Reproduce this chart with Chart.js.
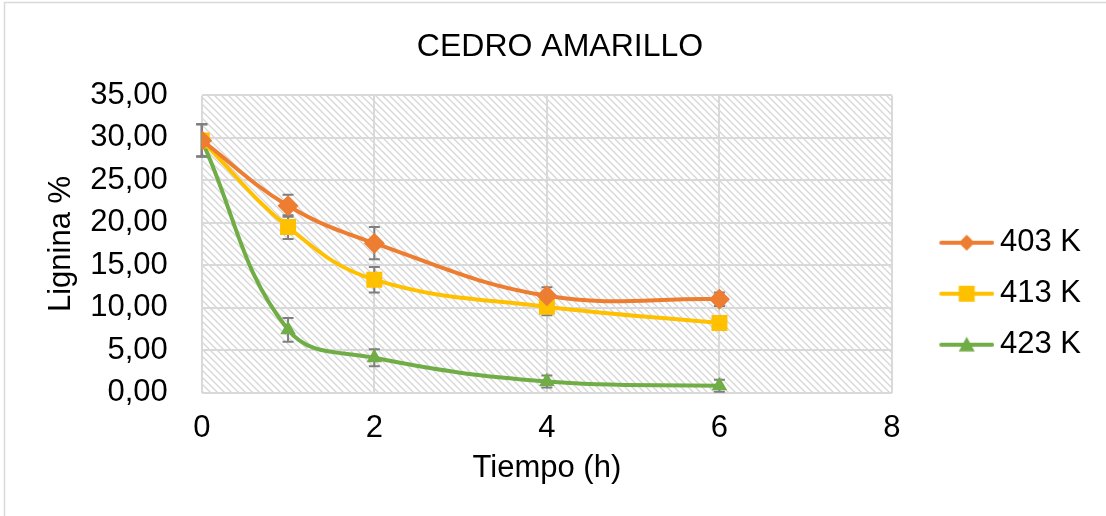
<!DOCTYPE html>
<html>
<head>
  <title>Cedro amarillo - lignina</title>
  <style>
    body { margin: 0; background: #fff; }
    #wrap { width: 1106px; height: 516px; position: relative; }
  </style>
</head>
<body>
  <div id="wrap"><canvas id="chart" width="1106" height="516"></canvas></div>

  <script src="https://cdn.jsdelivr.net/npm/chart.js@4.4.0/dist/chart.umd.js"></script>
  <script>
    // data
    const tiempo = [0, 1, 2, 4, 6];
    const seriesNames = ['403 K', '413 K', '423 K'];
    const lig403 = [29.7, 22.0, 17.6, 11.4, 11.0];
    const lig413 = [29.7, 19.5, 13.3, 10.1, 8.2];
    const lig423 = [29.7, 7.4, 4.1, 1.3, 0.8];
    const err403 = [1.9, 1.3, 1.9, 1.0, 0.8];
    const err413 = [1.9, 1.4, 1.5, 1.0, 0.3];
    const err423 = [1.9, 1.4, 1.0, 0.7, 0.7];
    const yTicks = [0, 5, 10, 15, 20, 25, 30, 35];
    const xTicks = [0, 2, 4, 6, 8];

    const colors = ['#ED7D31', '#FFC000', '#70AD47'];
    const font = 'Liberation Sans, Arial, sans-serif';

    function drawMarker(g, shape, x, y, s) {
      g.beginPath();
      if (shape === 'diamond') {
        g.moveTo(x, y - s); g.lineTo(x + s, y); g.lineTo(x, y + s); g.lineTo(x - s, y);
      } else if (shape === 'square') {
        g.rect(x - s, y - s, 2 * s, 2 * s);
      } else {
        g.moveTo(x, y - s); g.lineTo(x + s, y + s * 0.85); g.lineTo(x - s, y + s * 0.85);
      }
      g.closePath();
      g.fill();
    }

    // line + marker icons for the legend
    function legendIcon(color, shape, s) {
      const c = document.createElement('canvas');
      c.width = 92; c.height = 24;
      const g = c.getContext('2d');
      g.strokeStyle = color; g.fillStyle = color;
      g.lineWidth = 4; g.lineCap = 'round';
      g.beginPath(); g.moveTo(39, 12); g.lineTo(90, 12); g.stroke();
      drawMarker(g, shape, 64.5, 12, s);
      return c;
    }
    const icons = [
      legendIcon(colors[0], 'diamond', 8),
      legendIcon(colors[1], 'square', 8),
      legendIcon(colors[2], 'triangle', 8)
    ];

    function hatchPattern(ctx) {
      const t = document.createElement('canvas');
      t.width = 7; t.height = 7;
      const g = t.getContext('2d');
      g.fillStyle = '#fff'; g.fillRect(0, 0, 7, 7);
      g.strokeStyle = '#d6d6d6'; g.lineWidth = 1.3;
      g.beginPath();
      g.moveTo(-1, -1); g.lineTo(8, 8);
      g.moveTo(-8, -1); g.lineTo(1, 8);
      g.moveTo(6, -1); g.lineTo(15, 8);
      g.stroke();
      return ctx.createPattern(t, 'repeat');
    }

    const backdrop = {
      id: 'backdrop',
      beforeDraw(chart) {
        const { ctx, chartArea: a } = chart;
        ctx.save();
        ctx.fillStyle = '#fff';
        ctx.fillRect(0, 0, chart.width, chart.height);
        ctx.strokeStyle = '#d9d9d9'; ctx.lineWidth = 1.5;
        ctx.beginPath();
        ctx.moveTo(4.5, chart.height); ctx.lineTo(4.5, 2.5); ctx.lineTo(chart.width, 2.5);
        ctx.stroke();
        ctx.fillStyle = hatchPattern(ctx);
        ctx.fillRect(a.left, a.top, a.right - a.left, a.bottom - a.top);
        ctx.restore();
      }
    };

    const errorBars = {
      id: 'errorBars',
      beforeDatasetsDraw(chart) {
        const { ctx, scales: { x, y } } = chart;
        const errs = [err403, err413, err423];
        ctx.save();
        ctx.strokeStyle = '#7f7f7f'; ctx.lineWidth = 2;
        chart.data.datasets.forEach((ds, i) => {
          ds.data.forEach((p, j) => {
            const px = x.getPixelForValue(p.x);
            const top = y.getPixelForValue(p.y + errs[i][j]);
            const bot = y.getPixelForValue(p.y - errs[i][j]);
            ctx.beginPath();
            ctx.moveTo(px, top); ctx.lineTo(px, bot);
            ctx.moveTo(px - 5.5, top); ctx.lineTo(px + 5.5, top);
            ctx.moveTo(px - 5.5, bot); ctx.lineTo(px + 5.5, bot);
            ctx.stroke();
          });
        });
        ctx.restore();
      }
    };

    const toPoints = vals => vals.map((v, i) => ({ x: tiempo[i], y: v }));

    function series(i, vals, style, radius) {
      return {
        label: seriesNames[i],
        data: toPoints(vals),
        borderColor: colors[i],
        backgroundColor: colors[i],
        borderWidth: 4,
        pointStyle: style,
        pointRadius: radius,
        pointHoverRadius: radius,
        pointBorderWidth: 0,
        tension: 0.4
      };
    }

    new Chart(document.getElementById('chart'), {
      type: 'line',
      data: {
        datasets: [
          series(0, lig403, 'rectRot', 10.5),
          series(1, lig413, 'rect', 11.3),
          series(2, lig423, 'triangle', 9)
        ]
      },
      options: {
        responsive: false,
        animation: false,
        layout: { padding: { left: 29, right: 15, top: 0, bottom: 0 } },
        plugins: {
          title: {
            display: true,
            text: 'CEDRO AMARILLO',
            color: '#000',
            font: { family: font, size: 32, weight: 'normal' },
            padding: { top: 28, bottom: 29 }
          },
          legend: {
            position: 'right',
            title: { display: true, text: '', padding: { top: 57, bottom: 0 } },
            labels: {
              usePointStyle: true,
              pointStyleWidth: 72.5,
              padding: 20,
              color: '#000',
              font: { family: font, size: 31 },
              generateLabels(chart) {
                const items = Chart.defaults.plugins.legend.labels.generateLabels(chart);
                items.forEach((it, i) => { it.pointStyle = icons[i]; });
                return items;
              }
            }
          },
          tooltip: { enabled: false }
        },
        scales: {
          x: {
            type: 'linear',
            min: 0, max: 8,
            afterBuildTicks(scale) { scale.ticks = xTicks.map(v => ({ value: v })); },
            grid: { color: '#d9d9d9', lineWidth: 2, drawTicks: false },
            border: { display: false },
            ticks: { color: '#000', padding: 17, autoSkip: false, maxRotation: 0, font: { family: font, size: 31 } },
            title: {
              display: true, text: 'Tiempo (h)', color: '#000',
              font: { family: font, size: 31 }, padding: { top: -14, bottom: 29 }
            }
          },
          y: {
            min: 0, max: 35,
            afterBuildTicks(scale) { scale.ticks = yTicks.map(v => ({ value: v })); },
            grid: { color: '#d9d9d9', lineWidth: 2, drawTicks: false },
            border: { display: false },
            ticks: {
              color: '#000', padding: 34, autoSkip: false, font: { family: font, size: 31 },
              callback: v => v.toFixed(2).replace('.', ',')
            },
            title: {
              display: true, text: 'Lignina %', color: '#000',
              font: { family: font, size: 31 }, padding: { top: 14, bottom: -24 }
            }
          }
        }
      },
      plugins: [backdrop, errorBars]
    });
  </script>
</body>
</html>
